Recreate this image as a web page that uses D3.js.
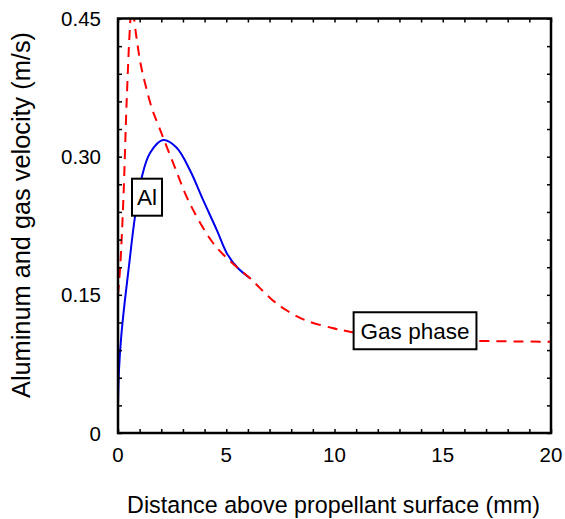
<!DOCTYPE html>
<html><head><meta charset="utf-8">
<script src="https://cdn.jsdelivr.net/npm/d3@7"></script>
<style>body{margin:0;background:#fff}text{font-family:"Liberation Sans",Arial,sans-serif;fill:#000}</style>
</head><body><svg id="c" width="565" height="519"></svg>
<script>
const xTicks = [0,5,10,15,20];
const yTicks = [0,0.15,0.30,0.45];
const yTickLabels = ["0","0.15","0.30","0.45"];
const gasX = [0,0.1,0.25,0.4,0.55,0.62,0.7,0.85,1.05,1.3,1.6,1.9,2.6,3.3,4.4,5.3,6.1,7.1,7.8,8.7,9.9,10.7,12,14,16.6,20];
const gasV = [0.15,0.18,0.255,0.36,0.44,0.46,0.455,0.43,0.40,0.375,0.35,0.332,0.29,0.25,0.206,0.184,0.168,0.145,0.133,0.122,0.114,0.11,0.105,0.102,0.1,0.099];
const alX = [0,0.05,0.15,0.3,0.5,0.78,1.1,1.48,2.08,2.7,3.33,3.93,4.57,5.03,5.5,6.1];
const alV = [0.03,0.07,0.105,0.14,0.18,0.234,0.278,0.304,0.318,0.31,0.285,0.253,0.22,0.195,0.18,0.168];
const labelText = ["Al","Gas phase"];
const labelX = [1.34,13.72];
const labelV = [0.256,0.111];

const svg = d3.select("#c");
const L=118,R=551,T=18.5,B=433;
const x = d3.scaleLinear().domain([0,20]).range([L,R]);
const y = d3.scaleLinear().domain([0,0.45]).range([B,T]);

svg.append("defs").append("clipPath").attr("id","clip").append("rect").attr("x",L).attr("y",T).attr("width",R-L).attr("height",B-T);

const g = svg.append("g").attr("clip-path","url(#clip)");
g.append("path").datum(alX.map((d,i)=>[d,alV[i]])).attr("d",d3.line().x(d=>x(d[0])).y(d=>y(d[1])).curve(d3.curveCatmullRom)).attr("fill","none").attr("stroke","#0000ee").attr("stroke-width",2);
g.append("path").datum(gasX.map((d,i)=>[d,gasV[i]])).attr("d",d3.line().x(d=>x(d[0])).y(d=>y(d[1])).curve(d3.curveCatmullRom)).attr("fill","none").attr("stroke","#ff0000").attr("stroke-width",2).attr("stroke-dasharray","10,7");

const minorX = d3.range(0,21,1), minorY = d3.range(0,0.4501,0.03);
svg.append("g").attr("transform",`translate(0,${B})`).call(d3.axisBottom(x).tickValues(minorX).tickSize(-4).tickFormat("")).call(a=>a.select(".domain").remove());
svg.append("g").attr("transform",`translate(0,${T})`).call(d3.axisTop(x).tickValues(minorX).tickSize(-4).tickFormat("")).call(a=>a.select(".domain").remove());
svg.append("g").attr("transform",`translate(${L},0)`).call(d3.axisLeft(y).tickValues(minorY).tickSize(-4).tickFormat("")).call(a=>a.select(".domain").remove());
svg.append("g").attr("transform",`translate(${R},0)`).call(d3.axisRight(y).tickValues(minorY).tickSize(-4).tickFormat("")).call(a=>a.select(".domain").remove());
svg.selectAll(".tick line").attr("stroke","#000").attr("stroke-width",1.5);
svg.append("rect").attr("x",L).attr("y",T).attr("width",R-L).attr("height",B-T).attr("fill","none").attr("stroke","#000").attr("stroke-width",2.5);

svg.selectAll(".xl").data(xTicks).enter().append("text").attr("x",d=>x(d)).attr("y",462).attr("text-anchor","middle").attr("font-size",20.5).text(d=>d);
svg.selectAll(".yl").data(yTicks).enter().append("text").attr("x",101).attr("y",d=>y(d)+7.5).attr("text-anchor","end").attr("font-size",20.5).text((d,i)=>yTickLabels[i]);

function fit(t,w){const n=t.node();const l=n.getComputedTextLength();t.attr("font-size",20*w/l);}
const xt = svg.append("text").attr("x",333.5).attr("y",513).attr("text-anchor","middle").attr("font-size",20).text("Distance above propellant surface (mm)");
fit(xt,413);
const yt = svg.append("text").attr("transform","translate(30,215) rotate(-90)").attr("text-anchor","middle").attr("font-size",20).text("Aluminum and gas velocity (m/s)");
fit(yt,366);

labelText.forEach((s,i)=>{
  const lg = svg.append("g");
  const r = lg.append("rect");
  const t = lg.append("text").attr("x",x(labelX[i])).attr("y",y(labelV[i])+8).attr("text-anchor","middle").attr("font-size",22.5).text(s);
  const bb = t.node().getBBox();
  const pad = i===0?5:7;
  r.attr("x",bb.x-pad).attr("y",y(labelV[i])-18.5).attr("width",bb.width+2*pad).attr("height",37).attr("fill","#fff").attr("stroke","#000").attr("stroke-width",2);
});
</script></body></html>
